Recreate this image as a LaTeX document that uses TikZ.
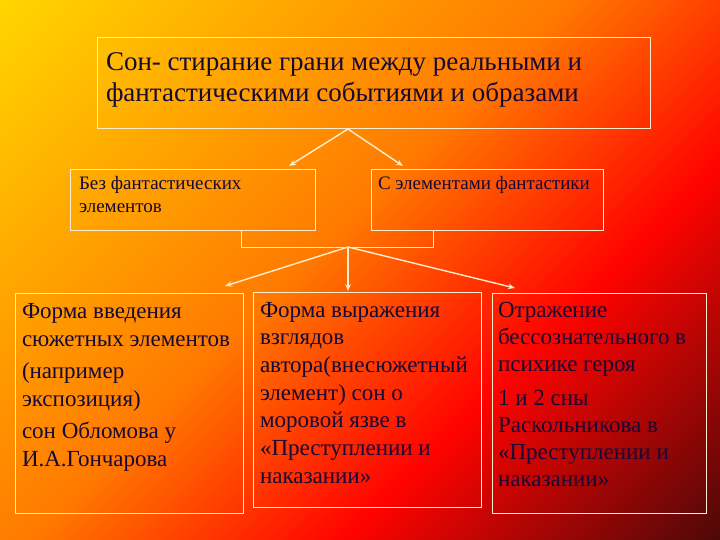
\documentclass[tikz,border=0pt]{standalone}
\usepackage{fontspec}
\setmainfont{Liberation Serif}
\usetikzlibrary{arrows.meta}
\definecolor{txt}{RGB}{22,8,55}
\definecolor{edge}{RGB}{255,238,205}
\pgfdeclarefunctionalshading{firebg}{\pgfpoint{0bp}{0bp}}{\pgfpoint{720bp}{540bp}}{}{
  neg 540 add add 1260 div
  dup 0.45 le
  { 0.45 div 1 exch -0.362 mul 0.84 add 0 }
  { dup 0.7 le
    { 0.45 sub 0.25 div 1 exch -0.4667 mul 0.478 add 0 }
    { 0.7 sub 0.3 div dup -0.698 mul 1 add exch dup 0.0196 mul 0.0118 add exch 0.0314 mul }
    ifelse }
  ifelse
}
\begin{document}
\begin{tikzpicture}[x=1bp,y=-1bp,
  box/.style={draw=edge, line width=0.9bp, inner sep=0pt, outer sep=0pt, anchor=north west},
  arr/.style={draw=edge, line width=1.4bp, -{Stealth[length=7bp,width=5.5bp]}},
  lbl/.style={inner sep=0pt, outer sep=0pt, anchor=base west, text=txt}]
\useasboundingbox (0,0) rectangle (720,540);
\node[inner sep=0pt, outer sep=0pt, anchor=north west] (bg) at (0,0) {\pgfuseshading{firebg}};
% boxes
\node[box, minimum width=553bp, minimum height=91bp] (top) at (97,37) {};
\node[box, minimum width=245bp, minimum height=61bp] (midL) at (70,169) {};
\node[box, minimum width=232bp, minimum height=61bp] (midR) at (371,169) {};
\draw[draw=edge, line width=0.9bp] (241,230) -- (241,247) -- (433,247) -- (433,230);
\node[box, minimum width=228bp, minimum height=220bp] (botL) at (15,293) {};
\node[box, minimum width=228bp, minimum height=215bp] (botM) at (253,292) {};
\node[box, minimum width=214bp, minimum height=220bp] (botR) at (492,293) {};
% texts
\node[lbl] (ttop) at (106,71) {\parbox[t]{560bp}{\fontsize{27bp}{31bp}\selectfont
  Сон- стирание грани между реальными и\\ фантастическими событиями и образами}};
\node[lbl] (tmL) at (79,190) {\parbox[t]{300bp}{\fontsize{19bp}{23bp}\selectfont
  Без фантастических\\ элементов}};
\node[lbl] (tmR) at (378,190) {\parbox[t]{300bp}{\fontsize{19bp}{23bp}\selectfont
  С элементами фантастики}};
\node[lbl] (tbL) at (22,318) {\parbox[t]{300bp}{\fontsize{23bp}{28bp}\selectfont\setlength{\parskip}{4bp}%
  Форма введения\\ сюжетных элементов\par (например\\ экспозиция)\par сон Обломова у\\ И.А.Гончарова}};
\node[lbl] (tbM) at (260,317) {\parbox[t]{300bp}{\fontsize{23bp}{27.7bp}\selectfont
  Форма выражения\\ взглядов\\ автора(внесюжетный\\ элемент) сон о\\ моровой язве в\\ «Преступлении и\\ наказании»}};
\node[lbl] (tbR) at (498,317) {\parbox[t]{300bp}{\fontsize{23bp}{27bp}\selectfont\setlength{\parskip}{7bp}%
  Отражение\\ бессознательного в\\ психике героя\par 1 и 2 сны\\ Раскольникова в\\ «Преступлении и\\ наказании»}};
% connectors
\coordinate (j1) at (348,129);
\coordinate (j2) at (348,247);
\coordinate (aL) at (289,166);
\coordinate (aR) at (403,166);
\coordinate (bL) at (225,286);
\coordinate (bM) at (348,291);
\coordinate (bR) at (515,288);
\draw[arr] (j1) -- (aL);
\draw[arr] (j1) -- (aR);
\draw[arr] (j2) -- (bL);
\draw[arr] (j2) -- (bM);
\draw[arr] (j2) -- (bR);
\end{tikzpicture}
\end{document}
